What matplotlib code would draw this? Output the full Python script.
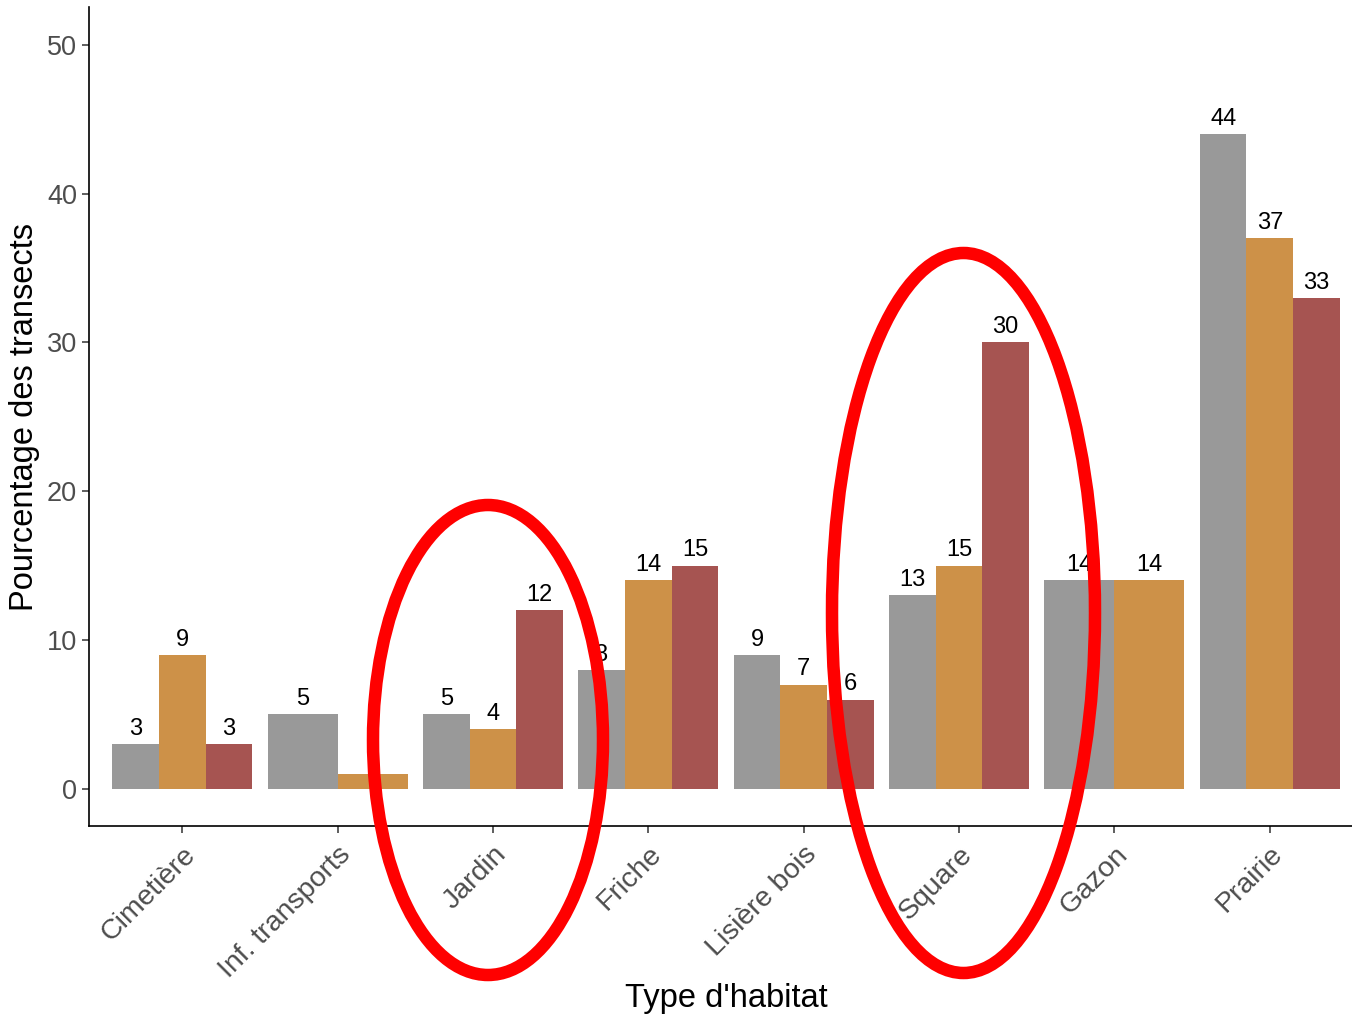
import numpy as np
import matplotlib
matplotlib.use("Agg")
import matplotlib.pyplot as plt
from matplotlib.patches import Ellipse

plt.rcParams['font.family'] = ['Liberation Sans', 'DejaVu Sans']

habitats = ["Cimetière", "Inf. transports", "Jardin", "Friche",
            "Lisière bois", "Square", "Gazon", "Prairie"]
# three groups, None = absent for that habitat
serie_1 = [3, 5, 5, 8, 9, 13, 14, 44]
serie_2 = [9, 1, 4, 14, 7, 15, 14, 37]
serie_3 = [3, None, 12, 15, 6, 30, None, 33]
couleurs = ["#999999", "#CD9148", "#A65451"]

W, H = 1352, 1017
fig = plt.figure(figsize=(W / 100, H / 100), dpi=100)
ax = fig.add_axes([89 / W, (H - 826) / H, (1363 - 89) / W, (826 - 7.5) / H])

series = [serie_1, serie_2, serie_3]
for i, hab in enumerate(habitats):
    present = [(k, s[i]) for k, s in enumerate(series) if s[i] is not None]
    n = len(present)
    w = 0.9 / n
    for j, (k, v) in enumerate(present):
        xc = (i + 1) - 0.45 + w * (j + 0.5)
        ax.bar(xc, v, width=w, color=couleurs[k], edgecolor='none', zorder=2)
        ax.annotate(str(v), (xc, v), xytext=(0, 3), textcoords='offset points',
                    ha='center', va='bottom', fontsize=17, color='black', zorder=3)

ax.set_xlim(0.4, 8.6)
ax.set_ylim(-2.5, 52.5)
ax.set_xticks(np.arange(1, len(habitats) + 1))
ax.set_xticklabels(habitats, rotation=45, ha='right', rotation_mode='anchor')
ax.set_yticks([0, 10, 20, 30, 40, 50])
ax.tick_params(axis='both', labelsize=19.5, labelcolor='#4D4D4D', color='#333333',
               length=5, width=1.1)
ax.tick_params(axis='x', labelsize=20.5, pad=6)
for side in ['top', 'right']:
    ax.spines[side].set_visible(False)
for side in ['left', 'bottom']:
    ax.spines[side].set_linewidth(1.2)
fig.text(726 / W, 1 - 998 / H, "Type d'habitat", fontsize=23.5,
         ha='center', va='center')
ax.set_ylabel("Pourcentage des transects", fontsize=23.5, labelpad=5)

# red highlight ellipses (figure pixel positions)
for cx, cy, ew, eh in [(488, 740, 230, 470), (963.5, 613, 263, 720)]:
    fig.add_artist(Ellipse((cx / W, 1 - cy / H), ew / W, eh / H,
                           transform=fig.transFigure, fill=False,
                           edgecolor='#FF0000', linewidth=9, zorder=10))

fig.savefig("out.png", dpi=100)
